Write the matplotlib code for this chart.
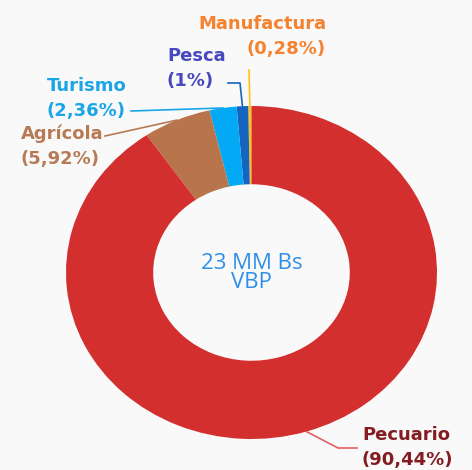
import numpy as np
import matplotlib
matplotlib.use("Agg")
import matplotlib.pyplot as plt

# Data
sectors = ["Manufactura", "Pesca", "Turismo", "Agrícola", "Pecuario"]
shares = [0.28, 1.0, 2.36, 5.92, 90.44]
share_labels = ["0,28%", "1%", "2,36%", "5,92%", "90,44%"]
wedge_colors = ["#ffc20e", "#1565c0", "#03a9f4", "#b8744a", "#d32f2f"]
text_colors = ["#f5822f", "#4848c0", "#1aa5e6", "#b67a55", "#841d22"]
line_colors = ["#ffc20e", "#1565c0", "#1aa5e6", "#b67a55", "#e06060"]
center_text = "23 MM Bs\nVBP"

# pixel layout of the donut (ellipse slightly wider than tall)
CX, CY, RX, RY = 251.5, 272.5, 185.5, 166.5
W, H = 472, 470


def to_data(x, y):
    return (x - CX) / RX, (CY - y) / RY


fig = plt.figure(figsize=(W / 100, H / 100), dpi=100)
fig.patch.set_facecolor("#f9f9f9")
ax = fig.add_axes([0, 0, 1, 1])
ax.set_facecolor("#f9f9f9")

wedges, _ = ax.pie(shares, colors=wedge_colors, startangle=90, counterclock=True,
                   radius=1.0, wedgeprops=dict(width=0.47, linewidth=0))
ax.set_aspect("auto")
x0, y0 = to_data(0, H)
x1, y1 = to_data(W, 0)
ax.set_xlim(x0, x1)
ax.set_ylim(y0, y1)
ax.axis("off")

# label text anchors (pixels), alignment and leader path (pixels, ending at wedge)
label_pos = [(326, 15, "right"), (167, 47, "left"), (47, 77, "left"),
             (21, 125, "left"), (362, 426, "left")]
leader_paths = [[(249, 70)], [(228, 83), (240, 83)], [(131, 111)],
                [(105, 136)], [(357, 448), (338, 448)]]

for i, w in enumerate(wedges):
    mid = np.deg2rad((w.theta1 + w.theta2) / 2)
    edge = (np.cos(mid), np.sin(mid))
    pts = [to_data(*p) for p in leader_paths[i]] + [edge]
    ax.plot([p[0] for p in pts], [p[1] for p in pts], color=line_colors[i], lw=1.2)
    tx, ty, ha = label_pos[i]
    for k, line in enumerate([sectors[i], f"({share_labels[i]})"]):
        ax.text(*to_data(tx, ty + 25 * k), line, ha=ha, va="top",
                fontsize=13, fontweight="bold", color=text_colors[i],
                family="DejaVu Sans")

ax.text(0, to_data(0, 273)[1], center_text, ha="center", va="center", fontsize=16,
        color="#2f8fe8", family="Open Sans", linespacing=0.9)

fig.savefig("out.png", dpi=100, facecolor=fig.get_facecolor())
